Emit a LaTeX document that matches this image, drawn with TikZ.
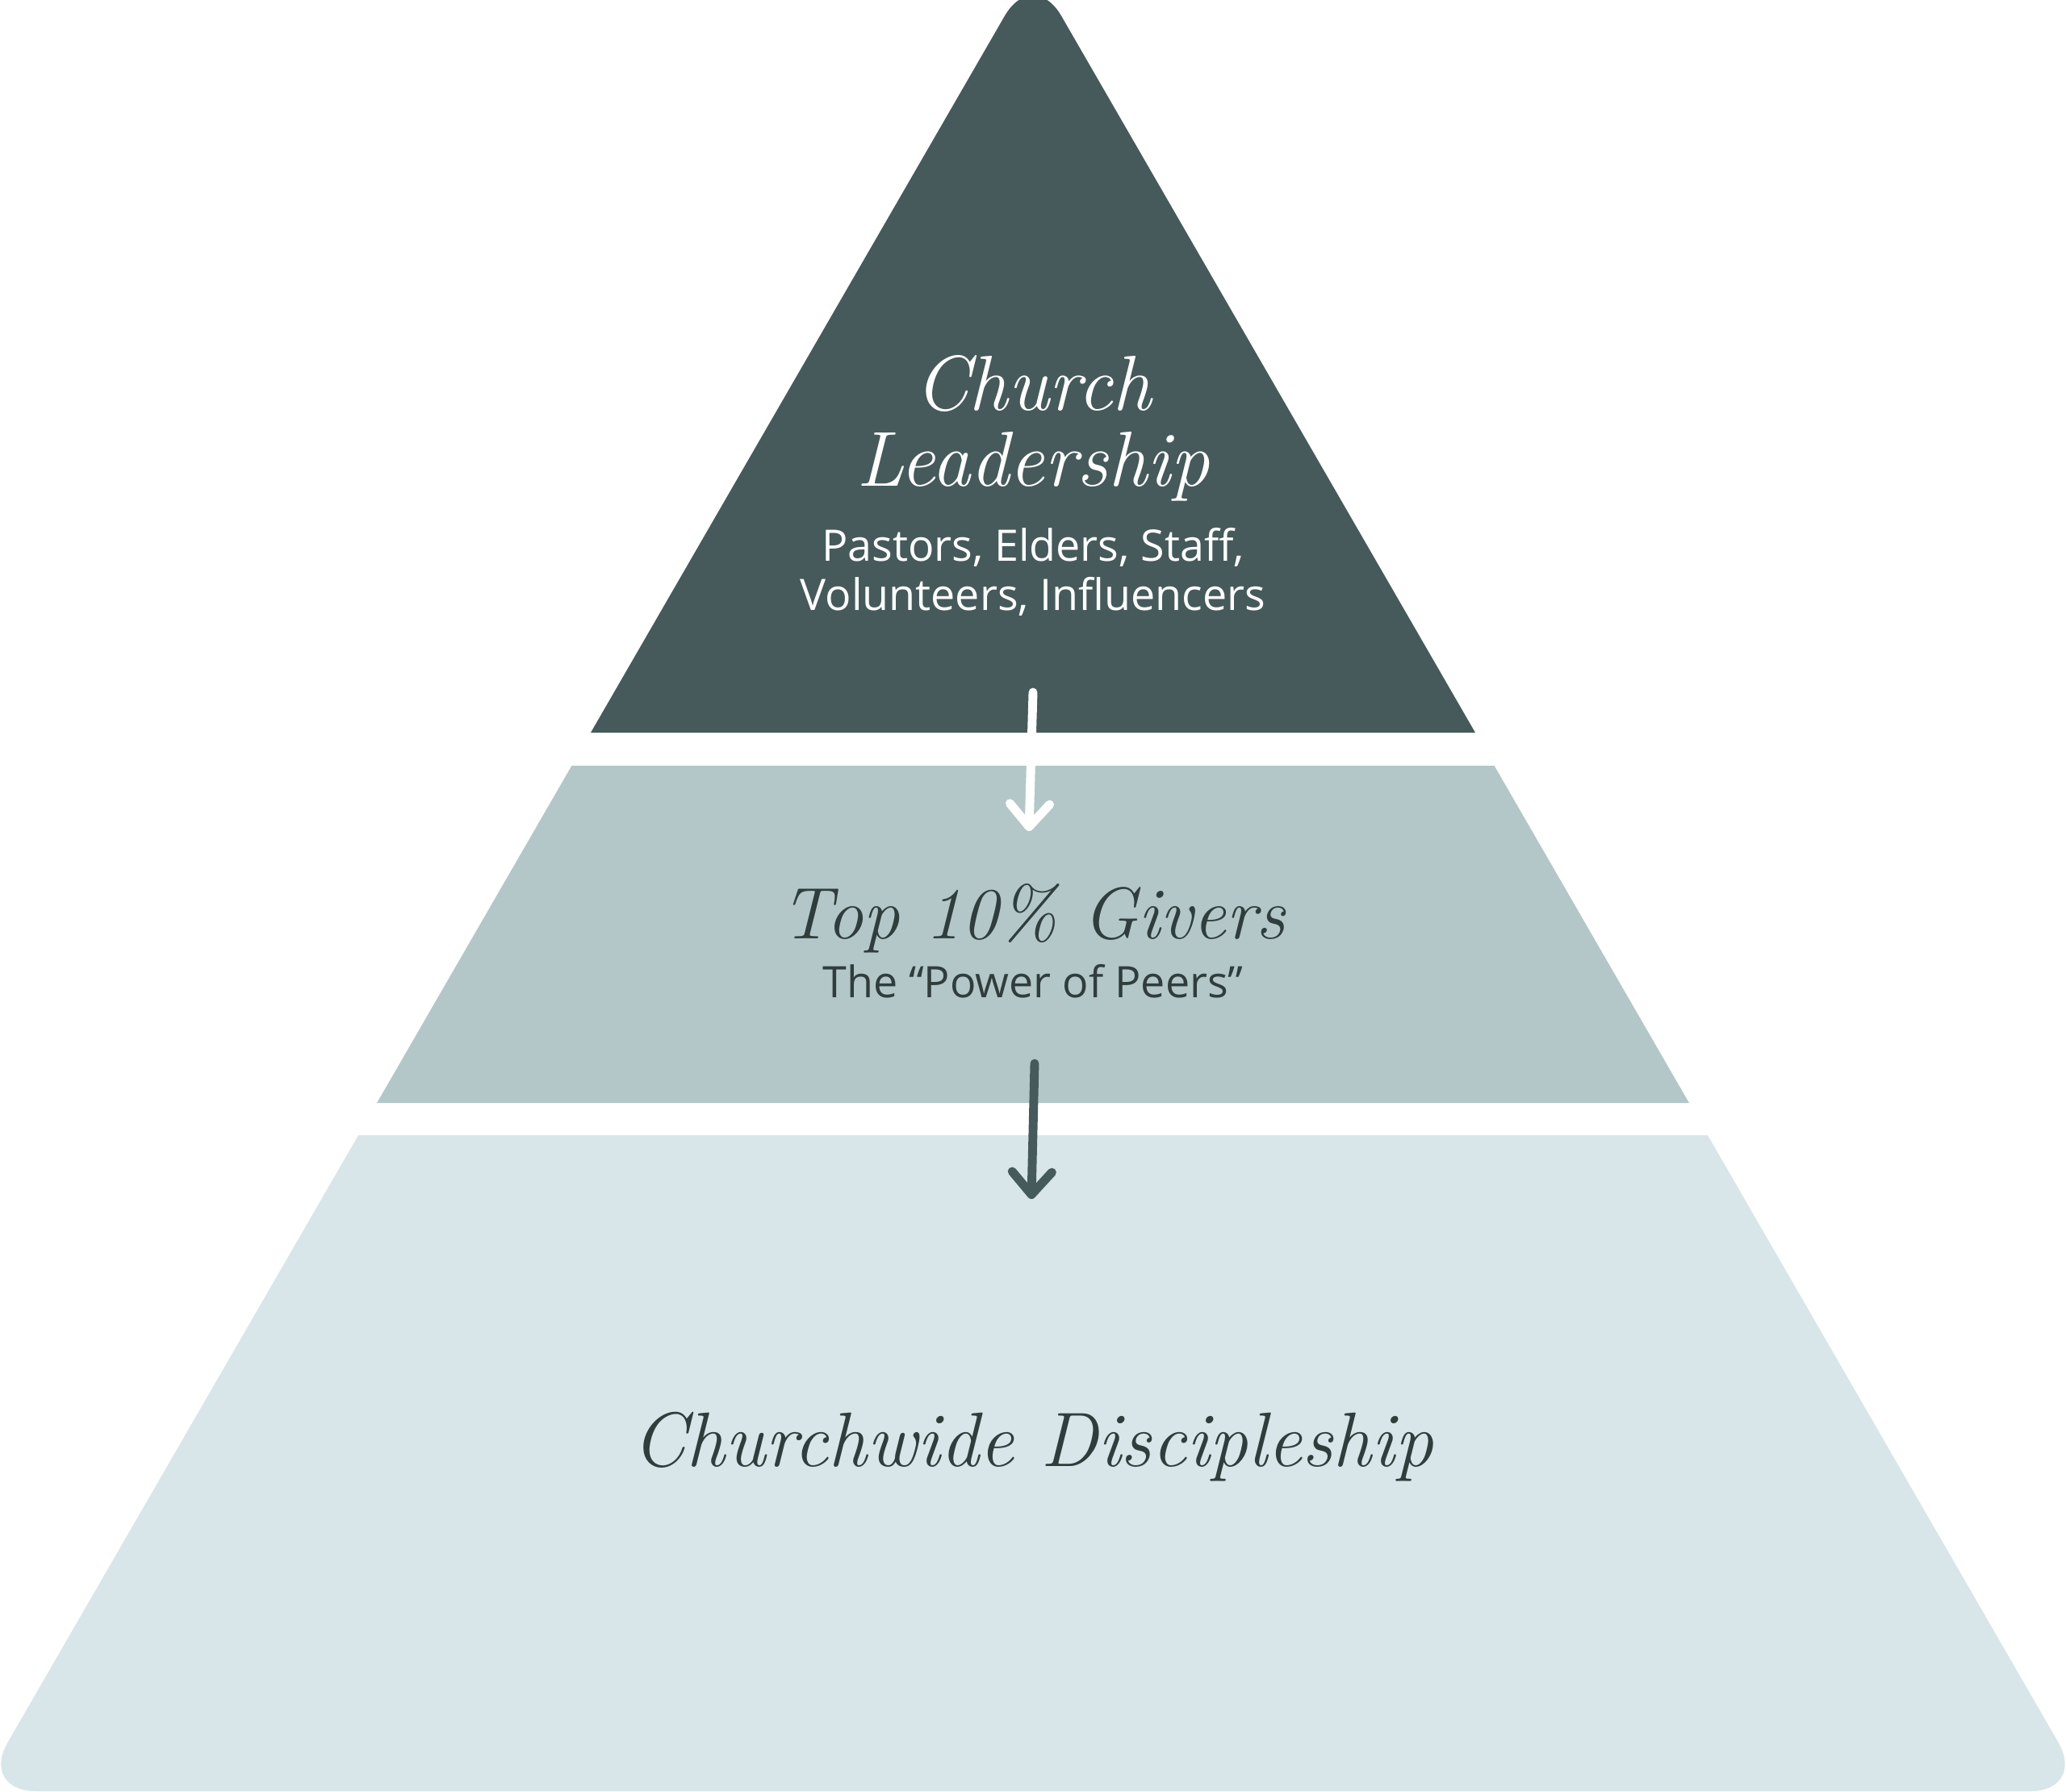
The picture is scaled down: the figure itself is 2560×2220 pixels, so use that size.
\documentclass[tikz,border=0pt]{standalone}
\usepackage{fontspec}
\newfontfamily\opensans{Open Sans}
\usetikzlibrary{arrows.meta}
\definecolor{darkslate}{HTML}{465A5B}
\definecolor{midblue}{HTML}{B4C7C8}
\definecolor{lightblue}{HTML}{D8E6E9}
\definecolor{textdark}{HTML}{2F3D3C}
\tikzset{
  titletext/.style={anchor=base, inner sep=0pt, font=\fontsize{27.5}{32}\selectfont\itshape},
  subtext/.style={anchor=base, inner sep=0pt, font=\opensans\fontsize{15.3}{18}\selectfont},
  flowarrow/.style={line width=3.1pt, line cap=round, -{Straight Barb[round, length=8pt, width=14pt]}}
}
\begin{document}
\begin{tikzpicture}[x=0.01cm,y=-0.01cm]
\useasboundingbox (0,0) rectangle (2560,2220);
% layers
\fill[darkslate] (732,908) [rounded corners=0.7cm] -- (1280,-41) [sharp corners] -- (1828,908) -- cycle;
\fill[midblue] (708.4,949) -- (1851.6,949) -- (2093,1367) -- (467,1367) -- cycle;
\fill[lightblue] (444,1407) -- (2116,1407) [rounded corners=0.7cm] -- (2585.4,2220) -- (-25.4,2220) [sharp corners] -- cycle;
% texts
\node[titletext, text=white] (cl1) at (1280,508) {Church};
\node[titletext, text=white] (cl2) at (1280,602) {Leadership};
\node[subtext, text=white] (sub1) at (1280,695) {Pastors, Elders, Staff,};
\node[subtext, text=white] (sub2) at (1280,756) {Volunteers, Influencers};
\node[titletext, text=textdark, font=\fontsize{25.8}{32}\selectfont\itshape] (givers) at (1280,1163) {Top 10\% Givers};
\node[subtext, text=textdark] (peers) at (1280,1236) {The “Power of Peers”};
\node[titletext, text=textdark, font=\fontsize{27.2}{32}\selectfont\itshape] (disc) at (1280,1817) {Churchwide Discipleship};
% arrows
\coordinate (a1s) at (1280,858);
\coordinate (a1e) at (1275,1030);
\coordinate (a2s) at (1282,1318);
\coordinate (a2e) at (1278,1486);
\draw[flowarrow, white] (a1s) -- (a1e);
\draw[flowarrow, darkslate] (a2s) -- (a2e);
\end{tikzpicture}
\end{document}
